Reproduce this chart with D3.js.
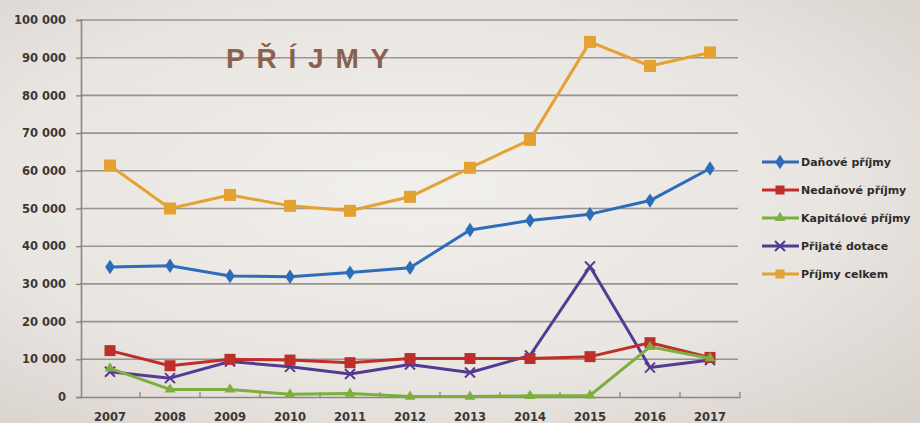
<!DOCTYPE html>
<html>
<head>
<meta charset="utf-8">
<script src="https://cdnjs.cloudflare.com/ajax/libs/d3/7.8.5/d3.min.js"></script>
<style>
html,body{margin:0;padding:0;background:#e6e2de;}
svg{display:block;}
</style>
</head>
<body>
<div id="chart"></div>
<script>
const years = ["2007","2008","2009","2010","2011","2012","2013","2014","2015","2016","2017"];
const danove = [34500, 34800, 32100, 31900, 33000, 34300, 44300, 46800, 48500, 52100, 60600];
const nedanove = [12300, 8300, 10000, 9800, 9100, 10200, 10200, 10200, 10700, 14400, 10500];
const kapitalove = [7600, 2000, 2000, 700, 900, 100, 100, 300, 400, 13300, 10300];
const dotace = [6700, 5000, 9400, 8000, 6100, 8600, 6500, 11000, 34600, 7800, 9800];
const celkem = [61400, 50000, 53600, 50700, 49400, 53100, 60800, 68200, 94200, 87800, 91400];
const seriesNames = ["Daňové příjmy","Nedaňové příjmy","Kapitálové příjmy","Přijaté dotace","Příjmy celkem"];
const yTicks = [0,10000,20000,30000,40000,50000,60000,70000,80000,90000,100000];
const title = "PŘÍJMY";

const W = 920, H = 423;
const svg = d3.select("#chart").append("svg").attr("width", W).attr("height", H);
const defs = svg.append("defs");
const bg = defs.append("radialGradient").attr("id","bg").attr("cx","0.45").attr("cy","0.45").attr("r","0.75");
bg.append("stop").attr("offset","0").attr("stop-color","#f1efec");
bg.append("stop").attr("offset","0.6").attr("stop-color","#e9e5e1");
bg.append("stop").attr("offset","1").attr("stop-color","#d8d2cc");
svg.append("rect").attr("width",W).attr("height",H).attr("fill","url(#bg)");

const x = d3.scaleBand().domain(years).range([80, 740]);
const y = d3.scaleLinear().domain([0, 100000]).range([397, 20]);
const fmt = v => d3.format(",")(v).replace(/,/g, " ");

// gridlines
svg.append("g").selectAll("line").data(yTicks.filter(d=>d>0)).join("line")
  .attr("x1", 80).attr("x2", 738).attr("y1", d=>y(d)).attr("y2", d=>y(d))
  .attr("stroke", "#8a8784").attr("stroke-width", 1.6).attr("opacity",0.85);

// y axis
const yAxis = svg.append("g").attr("transform","translate(81,0)")
  .call(d3.axisLeft(y).tickValues(yTicks).tickFormat(fmt).tickSize(5).tickPadding(10));
yAxis.select(".domain").attr("stroke","#8a8784").attr("stroke-width",1.6);
yAxis.selectAll(".tick line").attr("stroke","#8a8784").attr("stroke-width",1.4);
yAxis.selectAll("text").attr("font-family","DejaVu Sans").attr("font-weight","bold")
  .attr("font-size","11.5px").attr("fill","#3a3836");

// x axis
const xAxis = svg.append("g").attr("transform","translate(0,397)")
  .call(d3.axisBottom(x).tickSize(0).tickPadding(16));
xAxis.select(".domain").attr("stroke","#8a8784").attr("stroke-width",1.6);
xAxis.selectAll("text").attr("font-family","DejaVu Sans").attr("font-weight","bold")
  .attr("font-size","11.5px").attr("fill","#3a3836");
// band boundary ticks
const bounds = years.map(d => x(d)).concat([x.range()[1]]).slice(1);
xAxis.append("g").selectAll("line").data(bounds).join("line")
  .attr("x1", d=>d).attr("x2", d=>d).attr("y1", -5).attr("y2", 0)
  .attr("stroke","#8a8784").attr("stroke-width",1.3);

// title
svg.append("text").attr("x", 226).attr("y", 68).text(title)
  .attr("font-family","Liberation Sans, Arial").attr("font-weight","bold")
  .attr("font-size","28px").attr("letter-spacing","11.8px").attr("fill","#8a6150");

const cx = d => x(d) + x.bandwidth()/2;
const series = [
  {name: seriesNames[0], values: danove, color: "#2d6cb8", marker: "diamond"},
  {name: seriesNames[1], values: nedanove, color: "#bf2f2a", marker: "square", size: 11},
  {name: seriesNames[2], values: kapitalove, color: "#7daf3f", marker: "triangle"},
  {name: seriesNames[3], values: dotace, color: "#553a93", marker: "x"},
  {name: seriesNames[4], values: celkem, color: "#e4a233", marker: "square", size: 12}
];

function drawMarker(g, type, color, size) {
  if (type === "diamond") {
    g.append("path").attr("d", d3.symbol(d3.symbolDiamond, 60)()).attr("fill", color).attr("transform","scale(1.15,1)");
  } else if (type === "square") {
    const s = size || 11;
    g.append("rect").attr("x",-s/2).attr("y",-s/2).attr("width",s).attr("height",s).attr("fill",color);
  } else if (type === "triangle") {
    g.append("path").attr("d", d3.symbol(d3.symbolTriangle, 50)()).attr("fill", color);
  } else if (type === "x") {
    g.append("path").attr("d","M-5,-5L5,5M-5,5L5,-5").attr("stroke",color).attr("stroke-width",2);
  }
}

const line = d3.line().x((d,i)=>cx(years[i])).y(d=>y(d));
// draw order: total, danove, dotace, nedanove, kapitalove
[4,0,3,1,2].forEach(k => {
  const s = series[k];
  const g = svg.append("g");
  g.append("path").attr("d", line(s.values)).attr("fill","none")
    .attr("stroke", s.color).attr("stroke-width", 3).attr("stroke-linejoin","round");
  s.values.forEach((v,i) => {
    const mg = g.append("g").attr("transform", `translate(${cx(years[i])},${y(v)})`);
    drawMarker(mg, s.marker, s.color, s.size);
  });
});

// legend
const leg = svg.append("g");
series.forEach((s, i) => {
  const ly = 162 + i * 28;
  const lg = leg.append("g").attr("transform", `translate(0,${ly})`);
  lg.append("line").attr("x1",762).attr("x2",799).attr("y1",0).attr("y2",0)
    .attr("stroke", s.color).attr("stroke-width",3);
  const mg = lg.append("g").attr("transform","translate(780,0)");
  drawMarker(mg, s.marker, s.color, s.size ? 9 : undefined);
  lg.append("text").attr("x", 801).attr("y", 0).attr("dy","0.35em").text(s.name)
    .attr("font-family","DejaVu Sans").attr("font-weight","bold").attr("font-size","11px")
    .attr("fill","#2f2d2b");
});
</script>
</body>
</html>
